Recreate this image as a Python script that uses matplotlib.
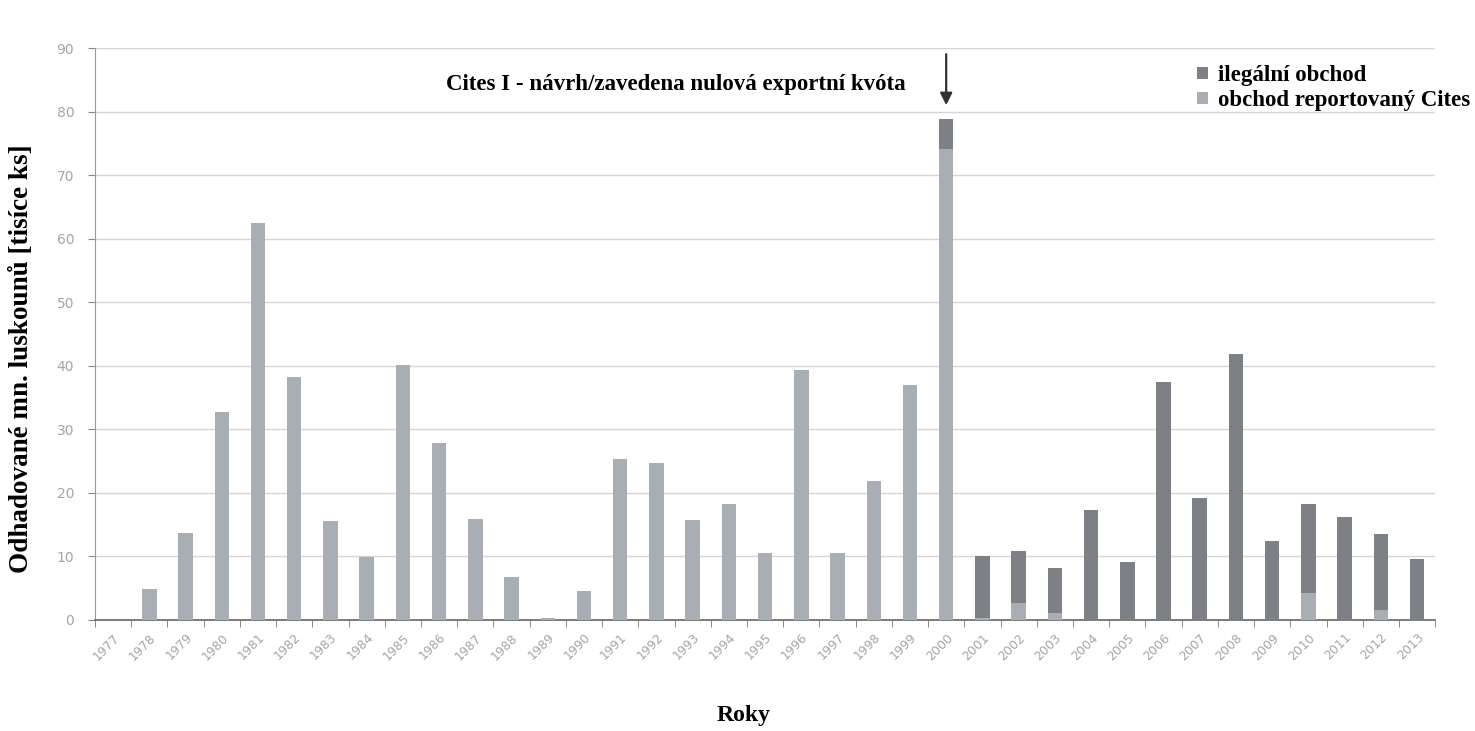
import matplotlib

matplotlib.use("Agg")
import matplotlib.pyplot as plt
import numpy as np

# ---------------------------------------------------------------------------
# Data (thousands of pangolins)
# ---------------------------------------------------------------------------
YEARS = list(range(1977, 2014))
REPORTED = [
    0.0, 4.9, 13.7, 32.8, 62.5, 38.3, 15.6, 9.9, 40.1, 27.9,
    15.9, 6.8, 0.3, 4.6, 25.4, 24.7, 15.7, 18.3, 10.5, 39.4,
    10.5, 21.9, 37.0, 74.2, 0.3, 2.7, 1.1, 0.0, 0.0, 0.0,
    0.0, 0.0, 0.0, 4.2, 0.0, 1.5, 0.0,
]
ILLEGAL = [
    0.0, 0.0, 0.0, 0.0, 0.0, 0.0, 0.0, 0.0, 0.0, 0.0,
    0.0, 0.0, 0.0, 0.0, 0.0, 0.0, 0.0, 0.0, 0.0, 0.0,
    0.0, 0.0, 0.0, 4.7, 9.8, 8.2, 7.1, 17.3, 9.1, 37.5,
    19.2, 41.9, 12.4, 14.1, 16.2, 12.0, 9.6,
]
Y_TICKS = [0, 10, 20, 30, 40, 50, 60, 70, 80, 90]

COLOR_REPORTED = "#a9aeb5"
COLOR_ILLEGAL = "#7d8084"
SERIF = ["Liberation Serif", "DejaVu Serif"]

fig = plt.figure(figsize=(14.75, 7.31), dpi=100)
fig.patch.set_facecolor("white")
ax = fig.add_axes([0.0644, 0.152, 0.9086, 0.782])

x = np.arange(len(YEARS))
ax.bar(x, REPORTED, width=0.4, color=COLOR_REPORTED, zorder=3,
       label="obchod reportovaný Cites")
ax.bar(x, ILLEGAL, width=0.4, bottom=REPORTED, color=COLOR_ILLEGAL, zorder=3,
       label="ilegální obchod")

ax.set_xlim(-0.5, len(YEARS) - 0.5)
ax.set_ylim(0, 90)
ax.set_yticks(Y_TICKS)
ax.yaxis.grid(True, color="#d4d6d8", linewidth=1.0, zorder=0)
ax.tick_params(axis="y", labelsize=10, labelcolor="#a5a5a5", color="#888888",
               length=5, pad=10)

ax.set_xticks(x)
ax.set_xticklabels([str(y) for y in YEARS], rotation=45, ha="right",
                   rotation_mode="anchor", fontsize=9, color="#a5a5a5")
ax.tick_params(axis="x", which="major", length=0, pad=8)
ax.set_xticks(np.arange(-0.5, len(YEARS), 1.0), minor=True)
ax.tick_params(axis="x", which="minor", length=5, color="#777777")

for side in ("top", "right"):
    ax.spines[side].set_visible(False)
ax.spines["left"].set_color("#999999")
ax.spines["bottom"].set_color("#666666")
ax.spines["bottom"].set_linewidth(1.2)

fig.text(0.0145, 0.51, "Odhadované mn. luskounů [tisíce ks]", rotation=90,
         ha="center", va="center", fontsize=19.5, fontweight="bold",
         family=SERIF)
fig.text(0.504, 0.021, "Roky", ha="center", va="center", fontsize=17,
         fontweight="bold", family=SERIF)

# annotation: CITES I listing
fig.text(0.458, 0.884, "Cites I - návrh/zavedena nulová exportní kvóta",
         ha="center", va="center", fontsize=16.5, fontweight="bold",
         family=SERIF)
i2000 = YEARS.index(2000)
ax.annotate("", xy=(i2000, 80.6), xytext=(i2000, 89.5),
            arrowprops=dict(arrowstyle="-|>", color="#333333", lw=1.6,
                            mutation_scale=18),
            annotation_clip=False)

handles, labels = ax.get_legend_handles_labels()
leg = ax.legend(handles[::-1], labels[::-1], loc="upper right",
                bbox_to_anchor=(1.026, 0.97), frameon=False,
                borderpad=0, borderaxespad=0, handlelength=0.45,
                handleheight=0.45, handletextpad=0.45, labelspacing=0.15,
                prop={"family": SERIF, "weight": "bold", "size": 16.5})

fig.savefig("out.png", dpi=100, facecolor="white")
